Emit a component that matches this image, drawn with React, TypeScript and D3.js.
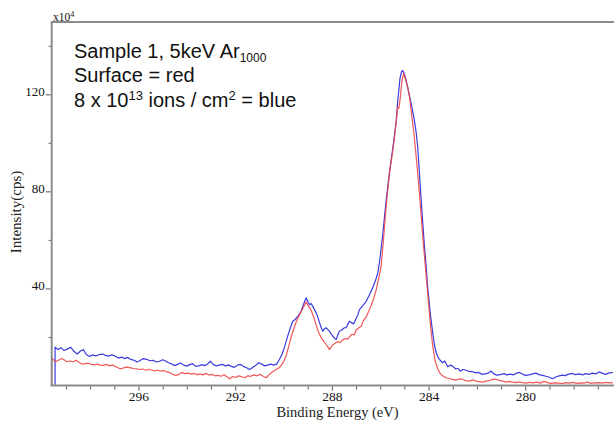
import React from "react";
import * as d3 from "d3";

// Binding energy (eV), intensity (x10^4 cps)
const bluePoints: [number, number][] = [
  [299.47,0],[299.47,16.0],[299.35,15.0],[299.22,15.8],[299.1,14.6],[298.95,15.3],[298.82,15.9],[298.68,14.2],[298.55,13.2],[298.42,14.4],[298.3,15.0],[298.18,13.0],[298.05,12.2],[297.92,12.8],[297.8,12.4],[297.65,12.9],[297.5,13.2],[297.38,12.6],[297.25,12.3],[297.12,12.9],[297.0,12.4],[296.85,11.5],[296.72,11.9],[296.6,11.3],[296.48,11.8],[296.35,11.0],[296.2,10.6],[296.08,9.9],[295.95,10.5],[295.82,11.3],[295.68,11.0],[295.55,10.4],[295.42,10.6],[295.28,9.9],[295.15,10.2],[295.02,10.8],[294.9,10.3],[294.78,9.6],[294.65,9.1],[294.52,8.4],[294.4,8.9],[294.28,9.5],[294.15,8.6],[294.02,8.2],[293.9,8.8],[293.78,9.2],[293.65,8.1],[293.52,8.3],[293.4,8.8],[293.28,8.4],[293.15,9.1],[293.05,10.2],[292.92,8.8],[292.8,8.3],[292.68,8.6],[292.55,8.9],[292.42,8.3],[292.3,8.7],[292.18,8.1],[292.05,7.7],[291.92,8.6],[291.8,8.9],[291.68,8.1],[291.55,7.5],[291.42,6.8],[291.3,7.6],[291.18,8.4],[291.05,9.6],[290.92,9.0],[290.8,8.3],[290.68,8.6],[290.55,9.0],[290.42,8.6],[290.3,9.1],[290.19,10.9],[290.08,13.2],[289.98,16.0],[289.88,19.5],[289.77,23.0],[289.64,26.7],[289.55,27.3],[289.43,28.7],[289.3,30.6],[289.22,32.9],[289.14,35.0],[289.08,36.3],[289.0,34.5],[288.95,33.5],[288.88,34.0],[288.8,32.6],[288.67,30.1],[288.6,28.3],[288.53,26.0],[288.45,23.8],[288.4,22.6],[288.32,23.6],[288.26,24.0],[288.18,23.2],[288.12,22.6],[288.05,21.5],[287.98,20.5],[287.9,19.6],[287.84,19.2],[287.78,20.8],[287.71,22.6],[287.6,23.2],[287.5,24.0],[287.43,24.0],[287.36,25.4],[287.29,26.7],[287.2,26.0],[287.12,25.6],[287.02,27.7],[286.95,29.2],[286.88,31.5],[286.75,33.0],[286.6,34.9],[286.47,37.5],[286.4,39.0],[286.33,40.5],[286.2,44.0],[286.12,46.6],[286.05,51.0],[285.92,62.0],[285.78,76.0],[285.64,88.0],[285.5,98.0],[285.36,109.0],[285.3,117.0],[285.2,127.0],[285.14,129.5],[285.09,130.0],[285.02,128.5],[284.95,126.0],[284.85,121.5],[284.74,116.5],[284.61,109.6],[284.54,105.0],[284.47,98.6],[284.4,88.0],[284.33,77.0],[284.26,67.0],[284.19,57.5],[284.12,49.0],[284.06,41.0],[283.95,30.0],[283.85,22.0],[283.78,17.0],[283.71,14.0],[283.64,12.0],[283.57,11.0],[283.5,10.2],[283.44,9.6],[283.35,10.3],[283.23,7.9],[283.12,8.6],[283.02,8.2],[282.9,7.0],[282.8,7.3],[282.72,6.1],[282.6,6.8],[282.47,6.5],[282.35,6.0],[282.2,5.9],[282.08,5.4],[281.95,5.6],[281.8,4.8],[281.68,5.0],[281.55,5.3],[281.44,6.2],[281.32,5.0],[281.2,4.5],[281.05,4.7],[280.9,5.1],[280.78,4.6],[280.65,4.9],[280.5,4.6],[280.38,5.3],[280.26,5.6],[280.12,4.8],[280.0,4.4],[279.86,4.6],[279.72,5.0],[279.58,5.3],[279.45,4.7],[279.3,4.4],[279.17,4.0],[279.02,3.6],[278.9,3.0],[278.78,3.6],[278.65,4.1],[278.5,4.5],[278.38,4.3],[278.22,4.9],[278.08,5.2],[277.95,4.7],[277.8,5.0],[277.65,4.6],[277.52,5.1],[277.38,4.8],[277.24,5.3],[277.1,5.0],[276.96,5.8],[276.82,5.2],[276.69,4.8],[276.55,5.4],[276.4,5.5]
];

const redPoints: [number, number][] = [
  [299.61,0],[299.61,11.6],[299.45,10.0],[299.33,10.6],[299.2,11.3],[299.1,10.8],[298.98,10.0],[298.85,10.3],[298.72,10.0],[298.6,10.6],[298.48,9.8],[298.35,9.0],[298.22,9.2],[298.1,9.4],[297.98,8.9],[297.85,8.7],[297.72,9.0],[297.6,8.6],[297.48,8.5],[297.35,8.9],[297.22,8.3],[297.1,8.6],[296.98,8.1],[296.85,7.4],[296.72,7.1],[296.6,7.6],[296.48,7.8],[296.35,7.5],[296.22,7.2],[296.1,7.1],[295.98,6.8],[295.85,7.0],[295.72,6.5],[295.6,6.9],[295.48,6.6],[295.35,6.2],[295.22,6.5],[295.1,6.1],[294.98,6.4],[294.85,5.8],[294.72,5.5],[294.6,4.8],[294.48,4.4],[294.35,4.8],[294.22,5.6],[294.1,5.1],[293.98,5.3],[293.85,4.9],[293.72,5.2],[293.6,4.6],[293.48,5.0],[293.35,4.6],[293.22,5.2],[293.1,4.5],[292.98,4.8],[292.85,4.2],[292.72,4.4],[292.6,4.0],[292.48,4.6],[292.35,3.7],[292.25,3.0],[292.12,3.9],[292.0,3.5],[291.88,4.2],[291.75,3.8],[291.62,3.4],[291.5,4.2],[291.38,4.0],[291.25,4.6],[291.12,4.2],[291.0,4.8],[290.88,4.1],[290.74,3.4],[290.6,4.8],[290.46,6.0],[290.32,6.8],[290.19,7.6],[290.05,9.4],[289.91,12.5],[289.8,16.5],[289.71,20.0],[289.6,23.5],[289.5,26.3],[289.4,28.6],[289.29,30.6],[289.18,32.8],[289.08,34.6],[289.0,33.0],[288.92,32.0],[288.85,30.5],[288.75,27.8],[288.67,25.0],[288.58,22.4],[288.47,20.0],[288.36,18.5],[288.26,17.1],[288.18,16.0],[288.12,15.0],[288.05,16.0],[287.98,17.0],[287.88,17.6],[287.78,18.3],[287.68,17.9],[287.57,19.0],[287.45,19.6],[287.36,19.3],[287.29,20.4],[287.18,21.3],[287.1,21.0],[287.02,23.0],[286.9,24.0],[286.8,24.6],[286.74,26.5],[286.6,28.5],[286.47,31.3],[286.33,34.8],[286.19,39.5],[286.05,46.0],[285.98,49.5],[285.88,61.0],[285.78,73.5],[285.64,87.5],[285.5,97.0],[285.43,102.5],[285.35,110.0],[285.3,114.8],[285.25,114.4],[285.2,118.0],[285.15,123.0],[285.1,127.0],[285.05,128.8],[284.98,126.5],[284.88,123.0],[284.8,118.5],[284.74,113.5],[284.61,102.5],[284.5,91.0],[284.4,79.5],[284.33,70.5],[284.26,61.5],[284.16,50.0],[284.06,38.5],[283.95,26.0],[283.85,16.5],[283.75,10.5],[283.64,7.0],[283.55,5.3],[283.44,4.2],[283.3,3.4],[283.16,3.0],[283.02,2.7],[282.88,2.4],[282.75,2.9],[282.61,2.7],[282.47,2.2],[282.33,2.0],[282.2,2.5],[282.06,2.0],[281.92,1.8],[281.78,1.6],[281.65,2.0],[281.5,2.2],[281.36,2.8],[281.23,2.7],[281.1,2.3],[280.96,2.0],[280.82,1.6],[280.68,1.9],[280.55,1.6],[280.4,1.4],[280.27,1.7],[280.13,1.4],[280.0,1.2],[279.85,1.5],[279.7,1.3],[279.55,1.6],[279.4,1.2],[279.25,1.9],[279.1,1.4],[278.95,1.1],[278.8,1.3],[278.65,1.2],[278.5,1.0],[278.35,1.4],[278.2,1.2],[278.05,1.5],[277.9,1.1],[277.75,1.3],[277.6,1.2],[277.45,1.6],[277.3,1.1],[277.15,1.3],[277.0,1.4],[276.85,1.2],[276.7,1.5],[276.55,1.3],[276.4,1.4]
];

const xTicks = [299, 298, 297, 296, 295, 294, 293, 292, 291, 290, 289, 288, 287, 286, 285, 284, 283, 282, 281, 280, 279, 278, 277];
const xLabels = [296, 292, 288, 284, 280];
const yTicks = [20, 40, 60, 80, 100, 120, 140];
const yLabels = [40, 80, 120];

const W = 614;
const H = 421;
const left = 51.7;
const right = 614;
const top = 22;
const bottom = 386;

export default function App() {
  const x = d3.scaleLinear().domain([299.61, 276.35]).range([left, right]);
  const y = d3.scaleLinear().domain([0, 150]).range([bottom, top]);
  const line = d3
    .line<[number, number]>()
    .x((d) => x(d[0]))
    .y((d) => y(d[1]));
  const axisColor = "#8c8c8c";
  const serif = "'Liberation Serif', 'Times New Roman', serif";
  const sans = "'Liberation Sans', Arial, sans-serif";
  return (
    <svg
      width={W}
      height={H}
      style={{ position: "absolute", left: 0, top: 0, background: "#fff" }}
    >
      <defs>
        <clipPath id="plotclip">
          <rect x={left} y={top} width={right - left} height={bottom - top} />
        </clipPath>
      </defs>
      <rect x={0} y={0} width={W} height={H} fill="#fff" />
      <g clipPath="url(#plotclip)">
        <path d={line(bluePoints) || ""} fill="none" stroke="#3b3be0" strokeWidth={1.2} strokeLinejoin="round" />
        <path d={line(redPoints) || ""} fill="none" stroke="#ef4646" strokeWidth={1.2} strokeOpacity={0.9} strokeLinejoin="round" />
      </g>
      {/* frame */}
      <line x1={left} x2={right} y1={top} y2={top} stroke={axisColor} strokeWidth={2} />
      <line x1={left} x2={left} y1={top - 1} y2={bottom} stroke={axisColor} strokeWidth={2} />
      <line x1={left - 1} x2={right} y1={bottom - 0.5} y2={bottom - 0.5} stroke={axisColor} strokeWidth={2} />
      {/* x ticks */}
      {xTicks.map((t) => (
        <line
          key={"xt" + t}
          x1={x(t)}
          x2={x(t)}
          y1={bottom + 0.5}
          y2={bottom + (xLabels.includes(t) ? 4.5 : 3.5)}
          stroke="#555"
          strokeWidth={1}
        />
      ))}
      {xLabels.map((t) => (
        <text
          key={"xl" + t}
          x={x(t)}
          y={401}
          textAnchor="middle"
          fontFamily={serif}
          fontSize={13.5}
          fill="#111"
        >
          {t}
        </text>
      ))}
      {/* y ticks */}
      {yTicks.map((t) => (
        <line
          key={"yt" + t}
          x1={yLabels.includes(t) ? left - 6 : left - 3}
          x2={left - 1}
          y1={y(t)}
          y2={y(t)}
          stroke="#555"
          strokeWidth={1}
        />
      ))}
      {yLabels.map((t) => (
        <text
          key={"yl" + t}
          x={left - 7}
          y={y(t) + 1}
          textAnchor="end"
          fontFamily={serif}
          fontSize={13}
          fill="#111"
        >
          {t}
        </text>
      ))}
      <text x={53} y={20.5} fontFamily={serif} fontSize={11.5} fill="#111">
        x10
        <tspan fontSize={8} dy={-4}>4</tspan>
      </text>
      <text
        transform={`translate(21,212) rotate(-90)`}
        textAnchor="middle"
        fontFamily={serif}
        fontSize={15}
        fill="#222"
      >
        Intensity(cps)
      </text>
      <text
        x={337.5}
        y={416.5}
        textAnchor="middle"
        fontFamily={serif}
        fontSize={14.5}
        fill="#222"
      >
        Binding Energy (eV)
      </text>
      {/* annotation */}
      <g fontFamily={sans} fontSize={20} fill="#111">
        <text x={74} y={58.3}>
          Sample 1, 5keV Ar
          <tspan fontSize={12} dy={4}>1000</tspan>
        </text>
        <text x={74} y={81.7}>Surface = red</text>
        <text x={74} y={106.7}>
          8 x 10
          <tspan fontSize={13} dy={-7}>13</tspan>
          <tspan dy={7}> ions / cm</tspan>
          <tspan fontSize={13} dy={-7}>2</tspan>
          <tspan dy={7}> = blue</tspan>
        </text>
      </g>
    </svg>
  );
}
